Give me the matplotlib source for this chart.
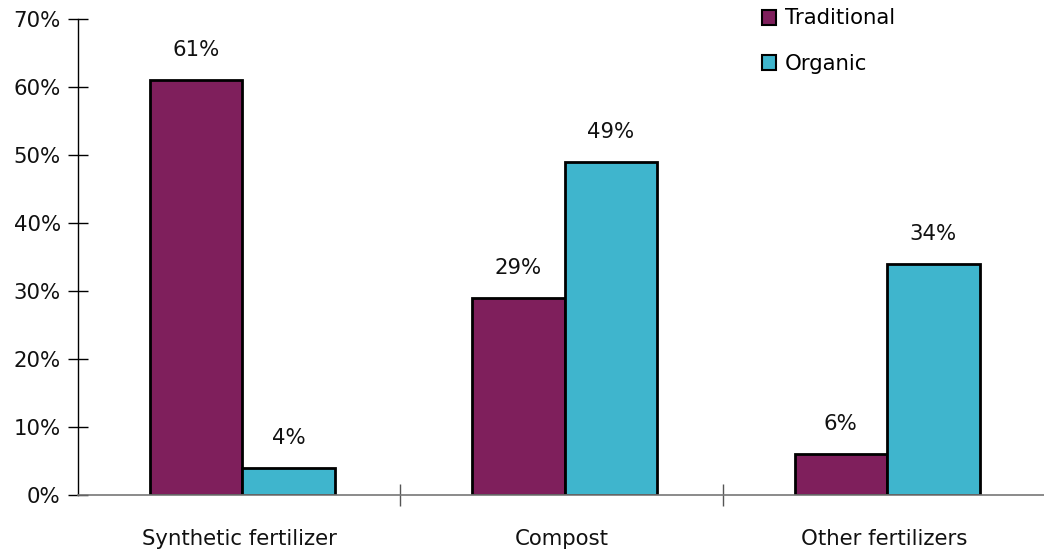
import matplotlib
matplotlib.use("Agg")
import matplotlib.pyplot as plt
import numpy as np
from matplotlib.patches import Patch

categories = ["Synthetic fertilizer", "Compost", "Other fertilizers"]
traditional = [61, 29, 6]
organic = [4, 49, 34]
series_names = ["Traditional", "Organic"]
y_ticks = [0, 10, 20, 30, 40, 50, 60, 70]

c_trad = "#7F1F5C"
c_org = "#3FB5CD"
font = ["DejaVu Sans"]
plt.rcParams["font.family"] = font
fs = 15.3

fig = plt.figure(figsize=(10.44, 5.54), dpi=100)
ax = fig.add_axes([78/1044, 59/554, (1045-78)/1044, (495-19)/554])

x = np.arange(len(categories))
w = 0.287
b1 = ax.bar(x - w/2 + 0.01, traditional, w, color=c_trad, edgecolor="black", linewidth=2.0, zorder=3)
b2 = ax.bar(x + w/2 + 0.01, organic, w, color=c_org, edgecolor="black", linewidth=2.0, zorder=3)

for bars, vals in ((b1, traditional), (b2, organic)):
    for r, v in zip(bars, vals):
        ax.text(r.get_x() + r.get_width()/2, v + 4.4, f"{v}%", ha="center", va="center",
                fontsize=fs, color="#111111")

ax.set_xlim(-0.5, 2.5)
ax.set_ylim(0, 70)
ax.set_yticks(y_ticks)
ax.set_yticklabels([f"{t}%" for t in y_ticks], fontsize=fs, color="#111111")
ax.tick_params(axis="y", direction="inout", length=15, width=1, pad=5)

ax.set_xticks([0.5, 1.5], minor=False)
ax.set_xticklabels(["", ""])
ax.tick_params(axis="x", direction="inout", length=16, width=1, color="#555555")
for xi, c in zip(x, categories):
    ax.text(xi, -6.4, c, ha="center", va="center", fontsize=fs, color="#111111")

for s in ("top", "right"):
    ax.spines[s].set_visible(False)
ax.spines["left"].set_color("black")
ax.spines["left"].set_linewidth(1)
ax.spines["bottom"].set_color("#777777")
ax.spines["bottom"].set_linewidth(1.2)
ax.spines["bottom"].set_zorder(4)

handles = [Patch(facecolor=c_trad, edgecolor="black", linewidth=1.5),
           Patch(facecolor=c_org, edgecolor="black", linewidth=1.5)]
leg = fig.legend(handles, series_names, loc="upper left",
                 bbox_to_anchor=(753/1044, 1 - 0/554), frameon=False,
                 fontsize=fs, handlelength=0.7, handleheight=0.7,
                 handletextpad=0.4, labelspacing=1.2, borderaxespad=0)

fig.savefig("out.png", dpi=100)
